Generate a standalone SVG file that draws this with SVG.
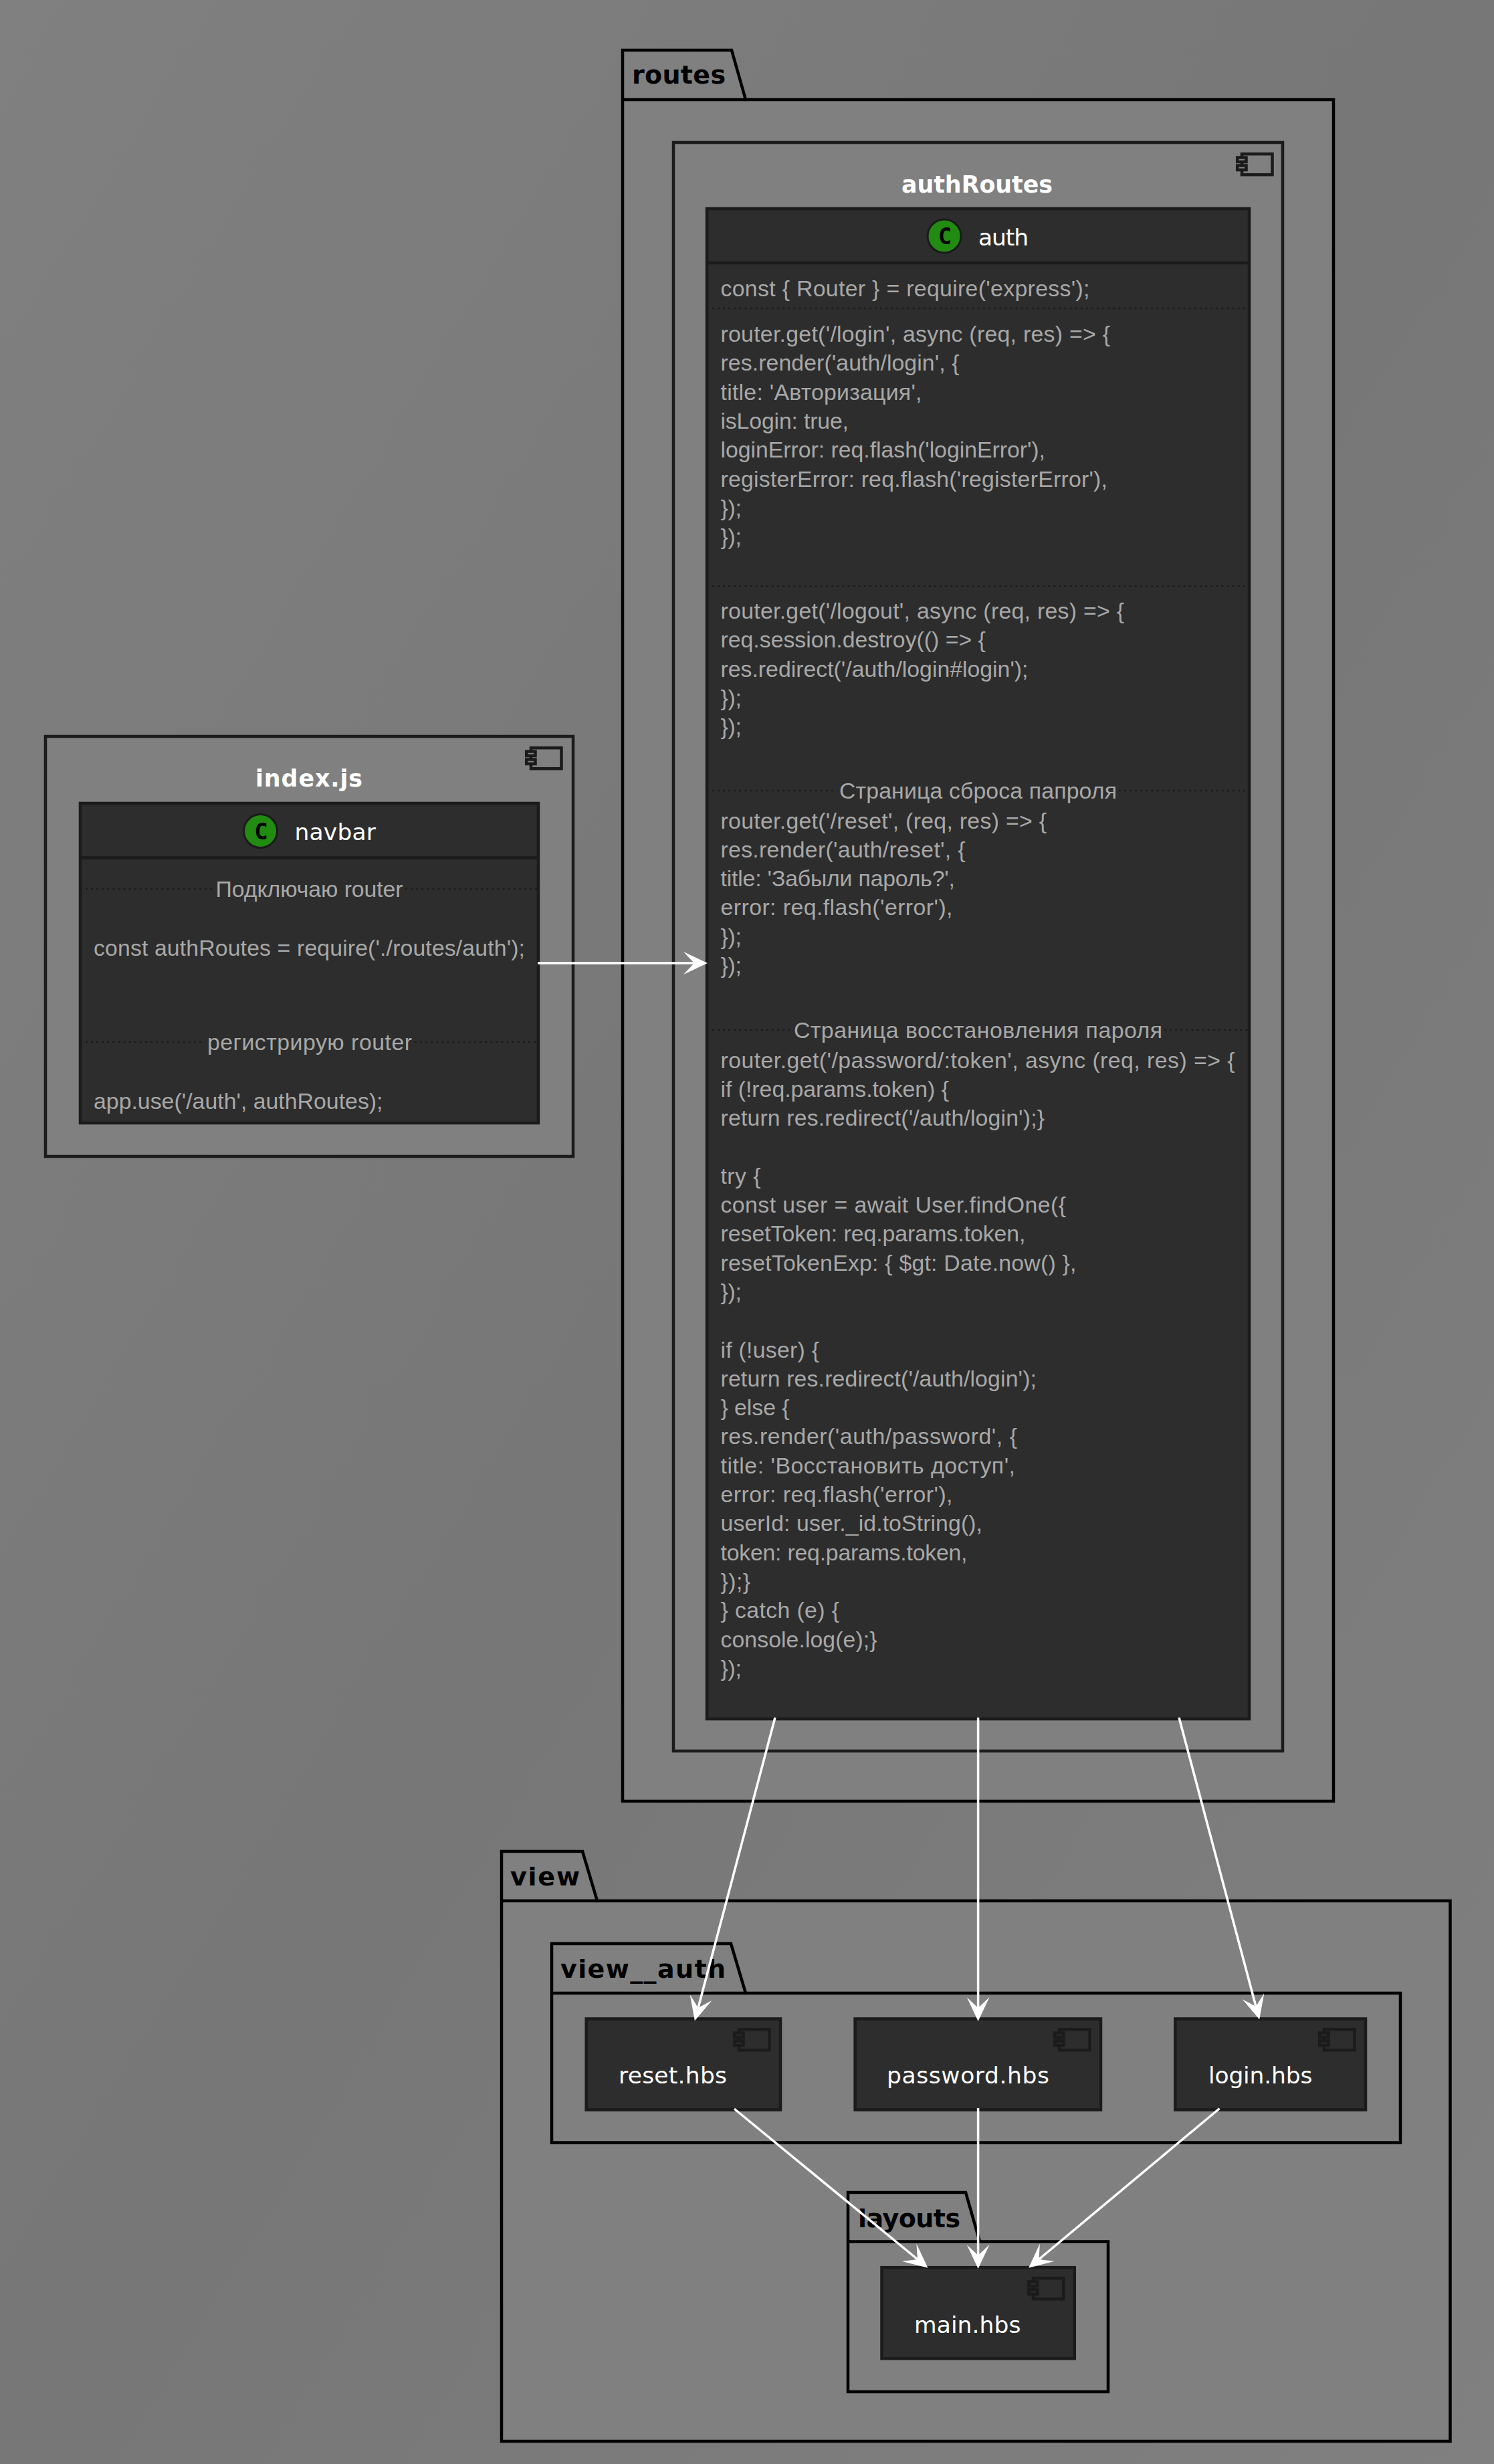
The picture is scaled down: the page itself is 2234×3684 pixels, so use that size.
<svg xmlns="http://www.w3.org/2000/svg" width="2234" height="3684" viewBox="0 0 2234 3684">
<defs>
<linearGradient id="bg" x1="0" y1="0" x2="1" y2="1"><stop offset="0" stop-color="#808080"/><stop offset="0.5" stop-color="#777"/><stop offset="1" stop-color="#808080"/></linearGradient>
<marker id="ah" viewBox="0 0 36 34" refX="16" refY="17" markerWidth="36" markerHeight="34" markerUnits="userSpaceOnUse" orient="auto"><path d="M0,0 L36,17 L0,34 L16,17 Z" fill="#fff"/></marker>
<g id="ci"><rect x="9" y="2.2" width="45.5" height="31" class="ib"/><rect x="2.2" y="7.5" width="13.3" height="6.5" class="is"/><rect x="2.2" y="19.5" width="13.3" height="6.5" class="is"/></g>
</defs>
<style>
.pk{fill:#808080;stroke:#000;stroke-width:4.5}
.cm{fill:#808080;stroke:#1b1b1b;stroke-width:4.5}
.bx{fill:#2d2d2d;stroke:#1b1b1b;stroke-width:4.5}
.sep{stroke:#1b1b1b;stroke-width:4.5}
.dot{stroke:#1b1b1b;stroke-width:2.7;stroke-dasharray:2.7 5.4;fill:none}
.ib,.is{fill:inherit;stroke:#1b1b1b;stroke-width:4.5}
.lt{fill:#808080}
.dk{fill:#2d2d2d}
.pt{font:bold 38px "DejaVu Sans",sans-serif;fill:#000}
.ct{font:bold 34.8px "DejaVu Sans",sans-serif;fill:#fff;text-anchor:middle}
.nm{font:34.5px "DejaVu Sans",sans-serif;fill:#fff}
.mb{font:33.8px "Liberation Sans",sans-serif;fill:#a8a8a8}
.c{font:bold 34px "DejaVu Sans Mono",monospace;fill:#000;text-anchor:middle}
.cc{fill:#228b11;stroke:#1b1b1b;stroke-width:3}
.ln{stroke:#fff;stroke-width:3.5;fill:none;marker-end:url(#ah)}
</style>
<rect width="2234" height="3684" fill="url(#bg)"/>
<g id="routes">
<path class="pk" d="M931,75 H1094 L1115,149 H1994 V2693 H931 Z"/><path class="pk" d="M931,149 H1115" fill="none"/>
<text class="pt" x="945" y="125" textLength="140">routes</text>
</g>
<g id="authRoutes">
<rect class="cm" x="1007" y="213" width="911" height="2405"/>
<use href="#ci" class="lt" x="1848" y="228"/>
<text class="ct" x="1461" y="288" textLength="226">authRoutes</text>
</g>
<g id="auth">
<rect class="bx" x="1057" y="312" width="811" height="2258"/>
<line class="sep" x1="1057" y1="393" x2="1868" y2="393"/>
<circle class="cc" cx="1412" cy="353" r="25"/><text class="c" x="1413" y="365">C</text>
<text class="nm" x="1463" y="367" textLength="75">auth</text>
<path class="dot" d="M1057,461 H1868 M1057,876.6 H1868 M1057,1182 H1252 M1673,1182 H1868 M1057,1540 H1184 M1741,1540 H1868"/>
<g class="mb">
<text x="1077.5" y="442.6" textLength="552">const { Router } = require('express');</text>
<text x="1077.5" y="511" textLength="582.5">router.get('/login', async (req, res) => {</text>
<text x="1077.5" y="554.3" textLength="357">res.render('auth/login', {</text>
<text x="1077.5" y="597.6" textLength="301">title: 'Авторизация',</text>
<text x="1077.5" y="640.9" textLength="191.5">isLogin: true,</text>
<text x="1077.5" y="684.2" textLength="485.5">loginError: req.flash('loginError'),</text>
<text x="1077.5" y="727.5" textLength="578.5">registerError: req.flash('registerError'),</text>
<text x="1077.5" y="770.8" textLength="31.5">});</text>
<text x="1077.5" y="814.1" textLength="31.5">});</text>
<text x="1077.5" y="925" textLength="603.5">router.get('/logout', async (req, res) => {</text>
<text x="1077.5" y="968.3">req.session.destroy(() => {</text>
<text x="1077.5" y="1011.6">res.redirect('/auth/login#login');</text>
<text x="1077.5" y="1054.9" textLength="31.5">});</text>
<text x="1077.5" y="1098.2" textLength="31.5">});</text>
<text x="1255" y="1194" textLength="415">Страница сброса папроля</text>
<text x="1077.5" y="1238.5" textLength="487.5">router.get('/reset', (req, res) => {</text>
<text x="1077.5" y="1281.8" textLength="366">res.render('auth/reset', {</text>
<text x="1077.5" y="1325.1" textLength="350.5">title: 'Забыли пароль?',</text>
<text x="1077.5" y="1368.4" textLength="347">error: req.flash('error'),</text>
<text x="1077.5" y="1411.7" textLength="31.5">});</text>
<text x="1077.5" y="1455" textLength="31.5">});</text>
<text x="1187" y="1552" textLength="551">Страница восстановления пароля</text>
<text x="1077.5" y="1596.5" textLength="769">router.get('/password/:token', async (req, res) => {</text>
<text x="1077.5" y="1639.8" textLength="341.5">if (!req.params.token) {</text>
<text x="1077.5" y="1683.1" textLength="484.5">return res.redirect('/auth/login');}</text>
<text x="1077.5" y="1769.7" textLength="60">try {</text>
<text x="1077.5" y="1813" textLength="516.5">const user = await User.findOne({</text>
<text x="1077.5" y="1856.3" textLength="456">resetToken: req.params.token,</text>
<text x="1077.5" y="1899.6" textLength="532">resetTokenExp: { $gt: Date.now() },</text>
<text x="1077.5" y="1942.9" textLength="31.5">});</text>
<text x="1077.5" y="2029.5" textLength="147.5">if (!user) {</text>
<text x="1077.5" y="2072.8" textLength="472.5">return res.redirect('/auth/login');</text>
<text x="1077.5" y="2116.1" textLength="103">} else {</text>
<text x="1077.5" y="2159.4" textLength="443.5">res.render('auth/password', {</text>
<text x="1077.5" y="2202.7" textLength="440.5">title: 'Восстановить доступ',</text>
<text x="1077.5" y="2246" textLength="347">error: req.flash('error'),</text>
<text x="1077.5" y="2289.3" textLength="391.5">userId: user._id.toString(),</text>
<text x="1077.5" y="2332.6" textLength="369">token: req.params.token,</text>
<text x="1077.5" y="2375.9" textLength="44.5">});}</text>
<text x="1077.5" y="2419.2" textLength="177.5">} catch (e) {</text>
<text x="1077.5" y="2462.5" textLength="234">console.log(e);}</text>
<text x="1077.5" y="2505.8" textLength="31.5">});</text>
</g>
</g>
<g id="index-js">
<rect class="cm" x="68" y="1101" width="789" height="628"/>
<use href="#ci" class="lt" x="785" y="1116"/>
<text class="ct" x="462" y="1176" textLength="160">index.js</text>
</g>
<g id="navbar">
<rect class="bx" x="120" y="1201" width="685" height="478"/>
<line class="sep" x1="120" y1="1282.5" x2="805" y2="1282.5"/>
<circle class="cc" cx="389.5" cy="1242.5" r="25"/><text class="c" x="390.5" y="1254.5">C</text>
<text class="nm" x="440.5" y="1256" textLength="121.5">navbar</text>
<path class="dot" d="M120,1329 H318 M606,1329 H805 M120,1558 H306 M620,1558 H805"/>
<g class="mb">
<text x="322.6" y="1341" textLength="280">Подключаю router</text>
<text x="140" y="1429" textLength="645">const authRoutes = require('./routes/auth');</text>
<text x="310" y="1570" textLength="306">регистрирую router</text>
<text x="140" y="1658" textLength="432.5">app.use('/auth', authRoutes);</text>
</g>
</g>
<g id="view">
<path class="pk" d="M750,2768 H871 L893,2842 H2168.5 V3650 H750 Z"/><path class="pk" d="M750,2842 H893"/>
<text class="pt" x="763" y="2819" textLength="104">view</text>
</g>
<g id="view__auth">
<path class="pk" d="M825,2906 H1093 L1115,2980 H2094 V3203.5 H825 Z"/><path class="pk" d="M825,2980 H1115"/>
<text class="pt" x="838" y="2957" textLength="247">view__auth</text>
</g>
<g id="reset-hbs">
<rect class="bx" x="876.7" y="3018.4" width="290.3" height="136"/><use href="#ci" class="dk" x="1096" y="3032"/>
<text class="nm" x="925" y="3115" textLength="162">reset.hbs</text>
</g>
<g id="password-hbs">
<rect class="bx" x="1278.6" y="3018.4" width="367.4" height="136"/><use href="#ci" class="dk" x="1575" y="3032"/>
<text class="nm" x="1326" y="3115" textLength="243">password.hbs</text>
</g>
<g id="login-hbs">
<rect class="bx" x="1757.3" y="3018.4" width="284.7" height="136"/><use href="#ci" class="dk" x="1971" y="3032"/>
<text class="nm" x="1807" y="3115" textLength="155.5">login.hbs</text>
</g>
<g id="layouts">
<path class="pk" d="M1268,3278 H1444 L1465,3351.5 H1657 V3576 H1268 Z"/><path class="pk" d="M1268,3351.5 H1465"/>
<text class="pt" x="1283" y="3330" textLength="153">layouts</text>
</g>
<g id="main-hbs">
<rect class="bx" x="1318.5" y="3390.2" width="288.3" height="136.2"/><use href="#ci" class="dk" x="1536" y="3404"/>
<text class="nm" x="1367" y="3487.6" textLength="159.5">main.hbs</text>
</g>
<g id="connectors">
<line class="ln" x1="804" y1="1440" x2="1038" y2="1440"/>
<line class="ln" x1="1159" y1="2568" x2="1044" y2="3002"/>
<line class="ln" x1="1462.6" y1="2568" x2="1462.6" y2="3002"/>
<line class="ln" x1="1763" y1="2568" x2="1878" y2="3000"/>
<line class="ln" x1="1098" y1="3153" x2="1372" y2="3378"/>
<line class="ln" x1="1462.6" y1="3152" x2="1462.6" y2="3372"/>
<line class="ln" x1="1823.5" y1="3152.5" x2="1553.5" y2="3378"/>
</g>
</svg>
